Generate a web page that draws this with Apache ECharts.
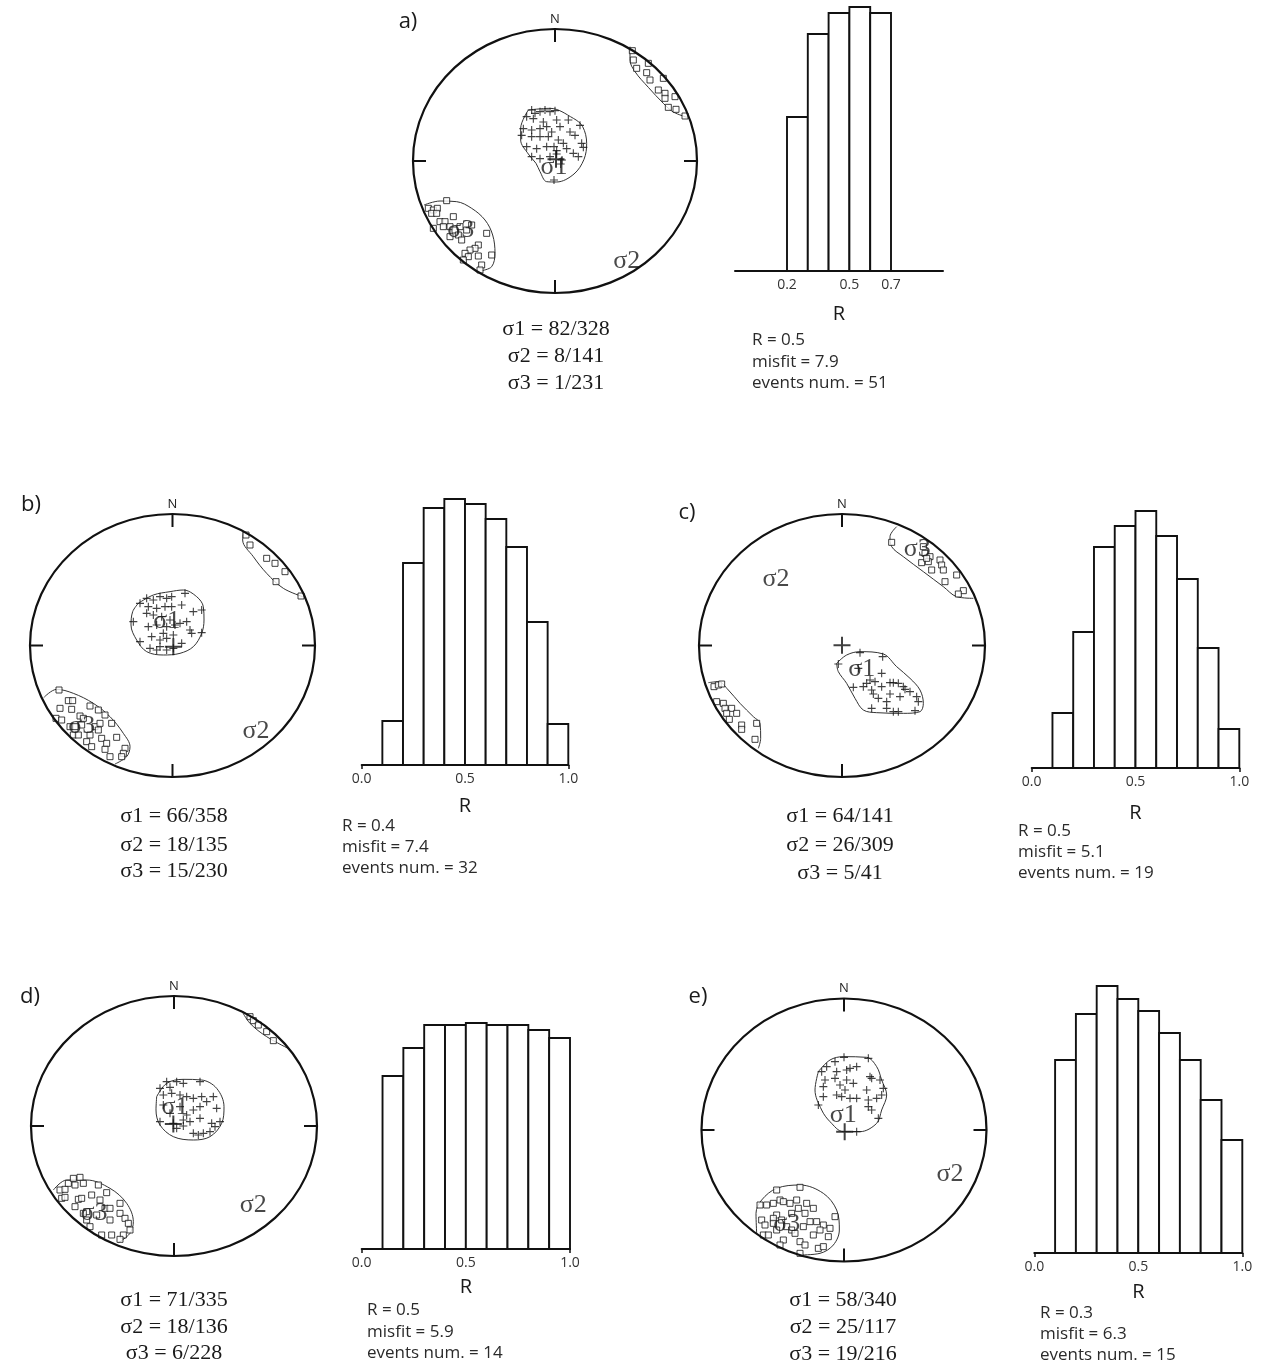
<!DOCTYPE html>
<html>
<head>
<meta charset="utf-8">
<script src="https://cdn.jsdelivr.net/npm/echarts@6/dist/echarts.min.js"></script>
<style>
html, body { margin: 0; background: #fff; }
#main { width: 1264px; height: 1372px; }
</style>
</head>
<body>
<div id="main"></div>
<script>
// Stereonet points are digitised in net units (x to the right, y downwards),
// each net spans the extent given in its *Ext array.

// ---------- panel a ----------
var aExt = [39, 891, 87, 879];
var aPlus = [[395,330],[405,340],[420,335],[435,330],[450,335],[465,332],[380,350],[400,356],[430,366],[470,360],[505,360],[540,376],[370,386],[395,390],[420,386],[440,380],[455,396],[480,380],[510,396],[525,406],[365,406],[395,410],[420,410],[445,410],[475,420],[490,430],[545,430],[550,442],[380,440],[410,446],[440,440],[462,440],[470,452],[500,446],[520,460],[395,470],[420,476],[450,470],[470,462],[486,480],[482,492],[535,470],[462,540]];
var aSquares = [[140,602],[85,625],[100,630],[112,625],[95,640],[110,640],[120,665],[135,665],[160,650],[100,685],[130,680],[150,680],[165,690],[180,680],[200,690],[215,675],[260,700],[150,710],[175,705],[185,720],[235,735],[225,745],[210,750],[195,760],[205,770],[235,768],[275,765],[190,780],[245,795],[240,810],
  [697,152],[700,180],[710,205],[745,190],[740,218],[750,240],[790,235],[775,270],[795,280],[795,295],[825,290],[805,322],[828,328],[855,348]];
var aRing1 = [[385,330],[450,325],[520,355],[548,380],[560,430],[552,478],[522,522],[470,546],[440,545],[420,515],[408,490],[385,462],[362,420],[362,385],[385,330]];
var aRing3 = [[72,615],[120,603],[170,605],[215,625],[255,660],[278,705],[285,760],[275,800],[245,812]];
var aRing3b = [[690,140],[690,180],[705,215],[745,262],[790,310],[820,336],[862,352]];
var aCentre = [[468,478]];
var aSigLabels = [['σ1',462,503],['σ2',680,785],['σ3',182,690]];
var aStress = ['σ1 = 82/328', 'σ2 = 8/141', 'σ3 = 1/231'];
var aEdges = [0.2, 0.3, 0.4, 0.5, 0.6, 0.7];
var aFreq = [154, 237, 258, 264, 258];
var aTicks = [0.2, 0.5, 0.7];
var aStats = ['R = 0.5', 'misfit = 7.9', 'events num. = 51'];

// ---------- panel b ----------
var bExt = [30, 885, 162, 951];
var bPlus = [[380,415],[400,420],[420,410],[440,415],[455,410],[495,400],[360,430],[385,440],[410,445],[435,440],[455,440],[485,435],[520,455],[545,450],[340,485],[380,460],[400,465],[425,470],[450,480],[480,490],[500,485],[385,500],[410,495],[440,500],[465,495],[510,510],[515,520],[545,518],[360,545],[395,530],[420,540],[440,535],[460,525],[485,550],[390,565],[410,570],[420,560],[440,570],[460,565],[430,520]];
var bSquares = [[678,225],[690,255],[740,295],[765,310],[795,335],[768,365],[843,408],
  [117,690],[145,722],[158,722],[120,745],[155,748],[210,738],[235,750],[255,765],[108,775],[125,780],[180,768],[190,775],[150,800],[165,800],[185,795],[225,800],[240,790],[235,810],[275,790],[160,825],[175,825],[210,825],[245,835],[290,832],[200,845],[215,860],[260,850],[255,868],[315,865],[310,880],[270,890],[305,890]];
var bRing1 = [[355,430],[400,405],[450,395],[490,390],[530,410],[550,440],[552,480],[545,520],[520,560],[480,580],[430,585],[380,575],[350,540],[333,495],[338,455],[355,430]];
var bRing3 = [[72,712],[110,688],[160,700],[220,730],[270,770],[310,820],[330,860],[320,890],[285,912]];
var bRing3b = [[670,215],[668,240],[700,290],[740,340],[790,385],[848,410]];
var bCentre = [[460,560]];
var bSigLabels = [['σ1',440,485],['σ2',708,815],['σ3',185,798]];
var bStress = ['σ1 = 66/358', 'σ2 = 18/135', 'σ3 = 15/230'];
var bEdges = [0.1, 0.2, 0.3, 0.4, 0.5, 0.6, 0.7, 0.8, 0.9, 1.0];
var bFreq = [44, 202, 257, 266, 261, 246, 218, 143, 41];
var bTicks = [0, 0.5, 1];
var bStats = ['R = 0.4', 'misfit = 7.4', 'events num. = 32'];

// ---------- panel c ----------
var cExt = [27, 885, 72, 861];
var cPlus = [[445,522],[510,488],[578,500],[505,535],[540,570],[555,575],[575,550],[530,580],[520,590],[490,592],[545,600],[600,578],[610,578],[625,580],[640,590],[645,598],[575,590],[550,612],[565,625],[590,635],[600,612],[630,620],[660,605],[680,620],[685,635],[545,655],[590,655],[610,665],[625,665],[675,662]];
var cSquares = [[605,157],[700,170],[705,190],[720,200],[695,218],[715,215],[725,240],[750,210],[755,225],[760,240],[765,275],[800,255],[820,302],[805,312],[710,205],
  [72,590],[85,585],[95,582],[80,635],[100,640],[105,655],[125,655],[110,670],[140,670],[118,688],[155,705],[155,718],[200,700],[195,748]];
var cRing1 = [[440,520],[470,495],[510,485],[580,492],[620,530],[660,565],[690,600],[700,640],[690,665],[640,670],[560,668],[520,660],[495,625],[470,580],[445,545],[440,520]];
var cRing3 = [[620,110],[600,140],[605,170],[640,200],[700,245],[760,290],[800,320],[850,325]];
var cRing3b = [[55,578],[85,575],[115,600],[150,640],[190,680],[210,700],[212,745],[205,775]];
var cCentre = [[456,466]];
var cSigLabels = [['σ1',515,538],['σ2',258,268],['σ3',682,178]];
var cStress = ['σ1 = 64/141', 'σ2 = 26/309', 'σ3 = 5/41'];
var cEdges = [0.1, 0.2, 0.3, 0.4, 0.5, 0.6, 0.7, 0.8, 0.9, 1.0];
var cFreq = [55, 136, 221, 242, 257, 232, 189, 120, 39];
var cTicks = [0, 0.5, 1];
var cStats = ['R = 0.5', 'misfit = 5.1', 'events num. = 19'];

// ---------- panel d ----------
var dExt = [33, 891, -12, 768];
var dPlus = [[440,245],[470,245],[490,250],[540,245],[420,265],[450,262],[430,285],[455,280],[480,285],[500,290],[520,295],[545,290],[560,305],[580,290],[430,315],[480,320],[520,330],[540,320],[590,325],[420,365],[460,370],[490,360],[510,365],[540,355],[575,370],[600,365],[470,385],[520,400],[535,405],[550,400],[570,395],[585,380],[490,378],[450,340],[500,345]];
var dSquares = [[690,50],[700,62],[715,75],[740,95],[760,122],
  [120,570],[135,568],[145,550],[160,535],[180,532],[190,550],[165,555],[125,595],[135,592],[175,598],[185,595],[215,585],[235,555],[260,578],[300,610],[240,600],[255,625],[270,625],[165,620],[200,635],[230,645],[270,660],[300,640],[315,655],[325,670],[330,690],[310,705],[300,718],[245,705],[275,705],[200,660],[210,680],[190,640]];
var dRing1 = [[410,290],[440,250],[490,238],[545,240],[590,265],[612,320],[605,370],[570,410],[520,420],[460,410],[420,375],[408,330],[410,290]];
var dRing3 = [[665,32],[690,70],[740,110],[810,148]];
var dRing3b = [[100,570],[140,540],[200,540],[270,565],[320,610],[340,665],[330,700],[295,728]];
var dCentre = [[460,372]];
var dSigLabels = [['σ1',465,322],['σ2',700,615],['σ3',222,640]];
var dStress = ['σ1 = 71/335', 'σ2 = 18/136', 'σ3 = 6/228'];
var dEdges = [0.1, 0.2, 0.3, 0.4, 0.5, 0.6, 0.7, 0.8, 0.9, 1.0];
var dFreq = [173, 201, 224, 224, 226, 224, 224, 219, 211];
var dTicks = [0, 0.5, 1];
var dStats = ['R = 0.5', 'misfit = 5.9', 'events num. = 14'];

// ---------- panel e ----------
var eExt = [34.5, 889.5, -4.5, 784.5];
var ePlus = [[462,172],[535,175],[435,185],[410,200],[480,205],[500,200],[395,215],[440,215],[470,210],[540,230],[545,235],[405,240],[435,235],[470,240],[490,250],[570,240],[400,260],[450,255],[465,270],[530,270],[580,265],[400,290],[440,285],[455,290],[480,295],[500,295],[535,300],[560,295],[575,285],[385,315],[535,320],[545,330],[565,355],[500,395]];
var eSquares = [[260,570],[330,562],[210,615],[230,615],[250,610],[270,600],[280,605],[300,610],[320,600],[350,610],[370,625],[325,625],[305,640],[345,640],[260,645],[215,660],[250,655],[275,660],[360,665],[380,665],[400,675],[435,650],[225,675],[250,670],[290,680],[305,690],[340,680],[390,690],[420,685],[220,705],[235,705],[260,690],[280,720],[315,700],[370,705],[415,710],[330,725],[345,735],[385,745],[400,740],[270,735],[330,760]];
var eRing1 = [[385,215],[420,180],[460,170],[530,172],[560,200],[575,240],[590,285],[575,330],[560,370],[510,395],[460,395],[420,365],[395,330],[375,270],[385,215]];
var eRing3 = [[200,700],[198,640],[215,600],[260,565],[330,555],[400,580],[440,630],[448,690],[430,735],[390,760],[330,765]];
var eRing3b = [];
var eCentre = [[464,395]];
var eSigLabels = [['σ1',460,345],['σ2',780,522],['σ3',290,672]];
var eStress = ['σ1 = 58/340', 'σ2 = 25/117', 'σ3 = 19/216'];
var eEdges = [0.1, 0.2, 0.3, 0.4, 0.5, 0.6, 0.7, 0.8, 0.9, 1.0];
var eFreq = [193, 239, 267, 254, 242, 220, 193, 153, 113];
var eTicks = [0, 0.5, 1];
var eStats = ['R = 0.3', 'misfit = 6.3', 'events num. = 15'];

// ---------- page layout (pixels) ----------
var panels = [
  { tag: 'a)', tagPos: [408, 22],
    net: { cx: 555, cy: 161, rx: 142, ry: 132 }, ext: aExt, plus: aPlus, squares: aSquares,
    rings: [aRing1, aRing3, aRing3b], centre: aCentre, sig: aSigLabels,
    stress: aStress, stressPos: [556, [329, 356, 383]],
    hist: { min: -0.05, max: 0.95, left: 735, right: 943, base: 271, gap: 33, endTicks: false },
    edges: aEdges, freq: aFreq, ticks: aTicks, stats: aStats, statsPos: [752, [340, 362, 383]] },
  { tag: 'b)', tagPos: [31, 505],
    net: { cx: 172.5, cy: 645.5, rx: 142.5, ry: 131.5 }, ext: bExt, plus: bPlus, squares: bSquares,
    rings: [bRing1, bRing3, bRing3b], centre: bCentre, sig: bSigLabels,
    stress: bStress, stressPos: [174, [816, 845, 871]],
    hist: { min: 0, max: 1, left: 361.7, right: 568.3, base: 765, gap: 31, endTicks: true },
    edges: bEdges, freq: bFreq, ticks: bTicks, stats: bStats, statsPos: [342, [826, 847, 868]] },
  { tag: 'c)', tagPos: [687, 513],
    net: { cx: 842, cy: 645.5, rx: 143, ry: 131.5 }, ext: cExt, plus: cPlus, squares: cSquares,
    rings: [cRing1, cRing3, cRing3b], centre: cCentre, sig: cSigLabels,
    stress: cStress, stressPos: [840, [816, 845, 873]],
    hist: { min: 0, max: 1, left: 1031.7, right: 1239.3, base: 768, gap: 35, endTicks: true },
    edges: cEdges, freq: cFreq, ticks: cTicks, stats: cStats, statsPos: [1018, [831, 852, 873]] },
  { tag: 'd)', tagPos: [30, 997],
    net: { cx: 174, cy: 1126, rx: 143, ry: 130 }, ext: dExt, plus: dPlus, squares: dSquares,
    rings: [dRing1, dRing3, dRing3b], centre: dCentre, sig: dSigLabels,
    stress: dStress, stressPos: [174, [1300, 1327, 1353]],
    hist: { min: 0, max: 1, left: 361.7, right: 570, base: 1249, gap: 28, endTicks: true },
    edges: dEdges, freq: dFreq, ticks: dTicks, stats: dStats, statsPos: [367, [1310, 1332, 1353]] },
  { tag: 'e)', tagPos: [698, 997],
    net: { cx: 844, cy: 1130, rx: 142.5, ry: 131.5 }, ext: eExt, plus: ePlus, squares: eSquares,
    rings: [eRing1, eRing3, eRing3b], centre: eCentre, sig: eSigLabels,
    stress: eStress, stressPos: [843, [1300, 1327, 1354]],
    hist: { min: 0, max: 1, left: 1034.3, right: 1242.3, base: 1253, gap: 29, endTicks: true },
    edges: eEdges, freq: eFreq, ticks: eTicks, stats: eStats, statsPos: [1040, [1313, 1334, 1355]] }
];

var HIST_TOP = 270; // shared frequency scale of all histograms
var PLUS = 'path://M5,0L5,10M0,5L10,5';
var SANS = '"Open Sans", "Liberation Sans", sans-serif';
var SERIF = '"Liberation Serif", "DejaVu Serif", serif';

var grids = [], xAxes = [], yAxes = [], series = [], graphics = [];

function renderBin(params, api) {
  var p0 = api.coord([api.value(0), 0]);
  var p1 = api.coord([api.value(1), api.value(2)]);
  return {
    type: 'rect',
    shape: { x: p0[0], y: p1[1], width: p1[0] - p0[0], height: p0[1] - p1[1] },
    style: { fill: '#fff', stroke: '#111', lineWidth: 1.9 }
  };
}

panels.forEach(function (p) {
  // ---- stereonet ----
  var n = p.net;
  var g = grids.length;
  grids.push({ left: n.cx - n.rx, top: n.cy - n.ry, width: 2 * n.rx, height: 2 * n.ry });
  xAxes.push({ gridIndex: g, type: 'value', min: p.ext[0], max: p.ext[1], show: false });
  yAxes.push({ gridIndex: g, type: 'value', min: p.ext[2], max: p.ext[3], inverse: true, show: false });

  p.rings.forEach(function (r) {
    if (!r.length) return;
    series.push({ type: 'line', xAxisIndex: g, yAxisIndex: g, data: r, smooth: 0.35,
      showSymbol: false, silent: true, lineStyle: { color: '#333', width: 1 }, z: 2 });
  });
  series.push({ type: 'scatter', xAxisIndex: g, yAxisIndex: g, data: p.squares, symbol: 'rect',
    symbolSize: 6, silent: true, z: 3,
    itemStyle: { color: '#fff', borderColor: '#111', borderWidth: 1 } });
  series.push({ type: 'scatter', xAxisIndex: g, yAxisIndex: g, data: p.plus, symbol: PLUS,
    symbolSize: 8, silent: true, z: 3,
    itemStyle: { color: '#000', borderColor: '#111', borderWidth: 1.1 } });
  series.push({ type: 'scatter', xAxisIndex: g, yAxisIndex: g, data: p.centre, symbol: PLUS,
    symbolSize: 17, silent: true, z: 4,
    itemStyle: { color: '#000', borderColor: '#111', borderWidth: 2 } });
  series.push({ type: 'scatter', xAxisIndex: g, yAxisIndex: g, symbolSize: 1, silent: true, z: 5,
    data: p.sig.map(function (s) { return { name: s[0], value: [s[1], s[2]] }; }),
    itemStyle: { color: 'rgba(0,0,0,0)' },
    label: { show: true, position: 'inside', formatter: '{b}', fontFamily: SERIF,
      fontSize: 26, color: '#1a1a1a' } });

  // frame of the net
  graphics.push({ type: 'ellipse', shape: { cx: n.cx, cy: n.cy, rx: n.rx, ry: n.ry },
    style: { fill: 'none', stroke: '#111', lineWidth: 2.2 }, z: 10 });
  var t = 13;
  [[n.cx, n.cy - n.ry, n.cx, n.cy - n.ry + t], [n.cx, n.cy + n.ry, n.cx, n.cy + n.ry - t],
   [n.cx - n.rx, n.cy, n.cx - n.rx + t, n.cy], [n.cx + n.rx, n.cy, n.cx + n.rx - t, n.cy]]
    .forEach(function (s) {
      graphics.push({ type: 'line', shape: { x1: s[0], y1: s[1], x2: s[2], y2: s[3] },
        style: { stroke: '#111', lineWidth: 2 }, z: 10 });
    });
  graphics.push({ type: 'text', x: n.cx, y: n.cy - n.ry - 10, z: 10,
    style: { text: 'N', font: '13px ' + SANS, fill: '#222', textAlign: 'center', textVerticalAlign: 'middle' } });
  graphics.push({ type: 'text', x: p.tagPos[0], y: p.tagPos[1], z: 10,
    style: { text: p.tag, font: '22px ' + SANS, fill: '#1a1a1a', textAlign: 'center', textVerticalAlign: 'middle' } });
  p.stress.forEach(function (s, i) {
    graphics.push({ type: 'text', x: p.stressPos[0], y: p.stressPos[1][i], z: 10,
      style: { text: s, font: '22px ' + SERIF, fill: '#1a1a1a', textAlign: 'center', textVerticalAlign: 'middle' } });
  });

  // ---- histogram of R ----
  var h = p.hist;
  var k = grids.length;
  grids.push({ left: h.left, top: h.base - HIST_TOP, width: h.right - h.left, height: HIST_TOP });
  xAxes.push({ gridIndex: k, type: 'value', min: h.min, max: h.max,
    name: 'R', nameLocation: 'middle', nameGap: h.gap,
    nameTextStyle: { fontFamily: SANS, fontSize: 20, color: '#1a1a1a' },
    axisLine: { show: true, onZero: false, lineStyle: { color: '#111', width: 2 } },
    axisTick: { show: h.endTicks, customValues: [0, 1], length: 4, inside: false,
      lineStyle: { color: '#111', width: 1.5 } },
    axisLabel: { customValues: p.ticks, formatter: function (v) { return v.toFixed(1); },
      fontFamily: SANS, fontSize: 14, color: '#333', margin: 7 },
    splitLine: { show: false } });
  yAxes.push({ gridIndex: k, type: 'value', min: 0, max: HIST_TOP, show: false });
  var bins = p.freq.map(function (f, i) { return [p.edges[i], p.edges[i + 1], f]; });
  series.push({ type: 'custom', xAxisIndex: k, yAxisIndex: k, data: bins, renderItem: renderBin,
    silent: true, encode: { x: [0, 1], y: 2 } });
  p.stats.forEach(function (s, i) {
    graphics.push({ type: 'text', x: p.statsPos[0], y: p.statsPos[1][i], z: 10,
      style: { text: s, font: '17px ' + SANS, fill: '#2a2a2a', textAlign: 'left', textVerticalAlign: 'middle' } });
  });
});

var chart = echarts.init(document.getElementById('main'), null, { renderer: 'canvas' });
chart.setOption({
  backgroundColor: '#fff',
  animation: false,
  grid: grids,
  xAxis: xAxes,
  yAxis: yAxes,
  series: series,
  graphic: { elements: graphics }
});
</script>
</body>
</html>
